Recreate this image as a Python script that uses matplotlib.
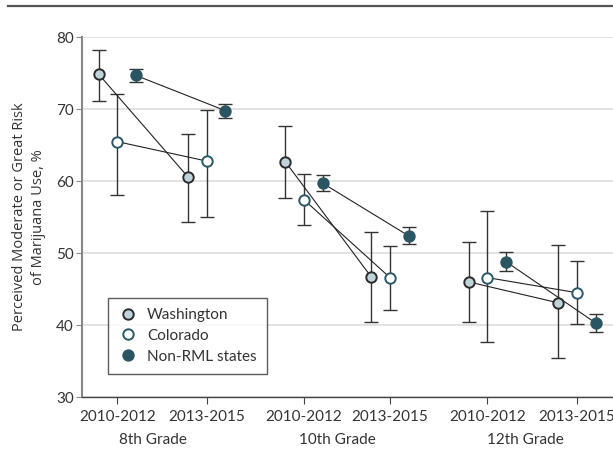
import matplotlib.pyplot as plt
import numpy as np
from matplotlib.lines import Line2D

periods = ["2010-2012", "2013-2015"]
grades = ["8th Grade", "10th Grade", "12th Grade"]
tick_pos = [0, 1, 2.09, 3.05, 4.14, 5.14]
grade_label_pos = [0.40, 2.46, 4.57]

washington = [74.9, 60.6, 62.7, 46.7, 46.0, 43.1]
wash_lo = [71.2, 54.3, 57.6, 40.4, 40.4, 35.4]
wash_hi = [78.2, 66.6, 67.7, 52.9, 51.6, 51.2]

colorado = [65.5, 62.8, 57.4, 46.6, 46.6, 44.5]
col_lo = [58.1, 55.0, 53.9, 42.1, 37.6, 40.1]
col_hi = [72.1, 69.9, 61.0, 51.0, 55.8, 48.9]

nonrml = [74.7, 69.8, 59.7, 52.4, 48.8, 40.3]
non_lo = [73.8, 68.8, 58.6, 51.3, 47.5, 39.0]
non_hi = [75.6, 70.8, 60.8, 53.6, 50.2, 41.5]

plt.rcParams['font.family'] = ['Lato', 'DejaVu Sans']

fig = plt.figure(figsize=(6.13, 4.49), dpi=100)
ax = fig.add_axes([0.1338, 0.1158, 0.8662, 0.801])

series = [
    ("Washington", washington, wash_lo, wash_hi, -0.21, "#bfd3db", "#2b2b2b"),
    ("Colorado", colorado, col_lo, col_hi, 0.0, "white", "#2a5868"),
    ("Non-RML states", nonrml, non_lo, non_hi, 0.21, "#2b5563", "#2b5563"),
]

handles = []
for name, vals, lo, hi, off, fc, ec in series:
    x = np.array(tick_pos) + off
    v = np.array(vals)
    err = [v - np.array(lo), np.array(hi) - v]
    ax.errorbar(x, v, yerr=err, fmt='none', ecolor="#333333", elinewidth=1.0,
                capsize=5, capthick=1.0, zorder=2)
    for g in range(3):
        ax.plot(x[2 * g:2 * g + 2], v[2 * g:2 * g + 2], color="#222222", lw=0.8, zorder=3)
    ax.plot(x, v, 'o', ms=7.5, mfc=fc, mec=ec, mew=1.4, ls='none', zorder=4)
    handles.append(Line2D([], [], marker='o', ls='none', ms=7.5, mfc=fc, mec=ec, mew=1.4, label=name))

ax.set_ylim(30, 80)
ax.set_xlim(-0.395, 5.545)
ax.set_yticks([30, 40, 50, 60, 70, 80])
ax.set_xticks(tick_pos)
ax.set_xticklabels(periods * 3)
ax.yaxis.grid(True, color="#dddddd", lw=1.2)
ax.set_axisbelow(True)

for s in ['top', 'right']:
    ax.spines[s].set_visible(False)
ax.spines['left'].set_color("#888888")
ax.spines['left'].set_linewidth(1.5)
ax.spines['bottom'].set_color("#444444")
ax.spines['bottom'].set_linewidth(1.0)

ax.tick_params(axis='y', length=4, color="#888888", labelsize=11, labelcolor="#333333", pad=2)
ax.tick_params(axis='x', length=5, color="#444444", labelsize=11, labelcolor="#333333", pad=4)

ax.set_ylabel("Perceived Moderate or Great Risk\nof Marijuana Use, %", fontsize=10.5,
              family=['Open Sans', 'DejaVu Sans'], color="#333333", labelpad=7, linespacing=1.35)

for lab, p in zip(grades, grade_label_pos):
    ax.text(p, -0.12, lab, transform=ax.get_xaxis_transform(), ha='center', va='center',
            fontsize=11, color="#333333")

leg = fig.legend(handles=handles, loc='upper left', bbox_to_anchor=(108 / 613, 1 - 298 / 449),
                 frameon=True, fancybox=False, edgecolor="#333333", fontsize=11,
                 labelspacing=0.45, handletextpad=0.6, borderpad=0.65, handlelength=1.3,
                 borderaxespad=0)
leg.get_frame().set_linewidth(1.0)
for t in leg.get_texts():
    t.set_color("#333333")

fig.add_artist(Line2D([8 / 613, 1.0], [1 - 6 / 449, 1 - 6 / 449], color="#555555", lw=1.6))

fig.savefig("out.png", dpi=100)
